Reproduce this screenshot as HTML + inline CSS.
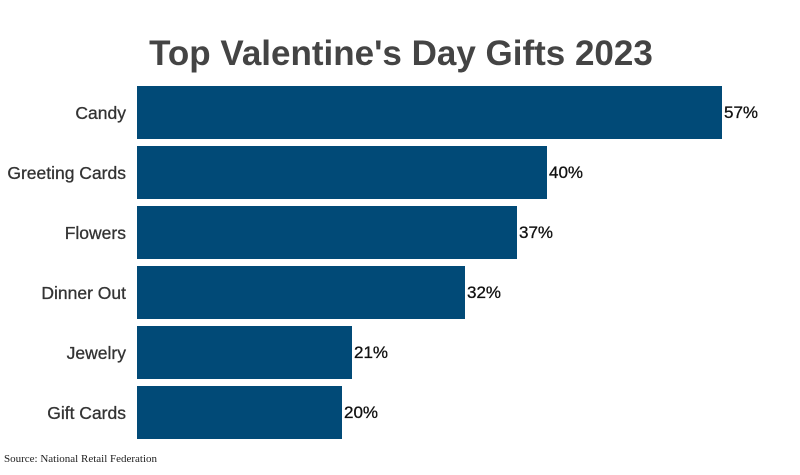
<!DOCTYPE html>
<html><head><style>
body{margin:0;width:800px;height:470px;background:#fff;overflow:hidden}
</style></head><body>
<svg width="800" height="470" xmlns="http://www.w3.org/2000/svg">
<text x="401" y="65" text-anchor="middle" font-family="Liberation Sans, sans-serif" font-weight="bold" font-size="35" fill="#444">Top Valentine's Day Gifts 2023</text>
<g font-family="Liberation Sans, sans-serif">
<g fill="#014a77">
<rect x="137" y="86" width="585" height="53"/>
<rect x="137" y="146" width="410" height="53"/>
<rect x="137" y="206" width="380" height="53"/>
<rect x="137" y="266" width="328" height="53"/>
<rect x="137" y="326" width="215" height="53"/>
<rect x="137" y="386" width="205" height="53"/>
</g>
<g text-anchor="end" fill="#333" font-size="17.5" stroke="#333" stroke-width="0.3">
<text x="126" y="119">Candy</text>
<text x="126" y="179">Greeting Cards</text>
<text x="126" y="239">Flowers</text>
<text x="126" y="299">Dinner Out</text>
<text x="126" y="359">Jewelry</text>
<text x="126" y="419">Gift Cards</text>
</g>
<g fill="#111" font-size="17" stroke="#111" stroke-width="0.3">
<text x="724" y="118">57%</text>
<text x="549" y="178">40%</text>
<text x="519" y="238">37%</text>
<text x="467" y="298">32%</text>
<text x="354" y="358">21%</text>
<text x="344" y="418">20%</text>
</g>
</g>
<text x="4" y="462" font-family="Liberation Serif, serif" font-size="11" fill="#222">Source: National Retail Federation</text>
</svg>
</body></html>
